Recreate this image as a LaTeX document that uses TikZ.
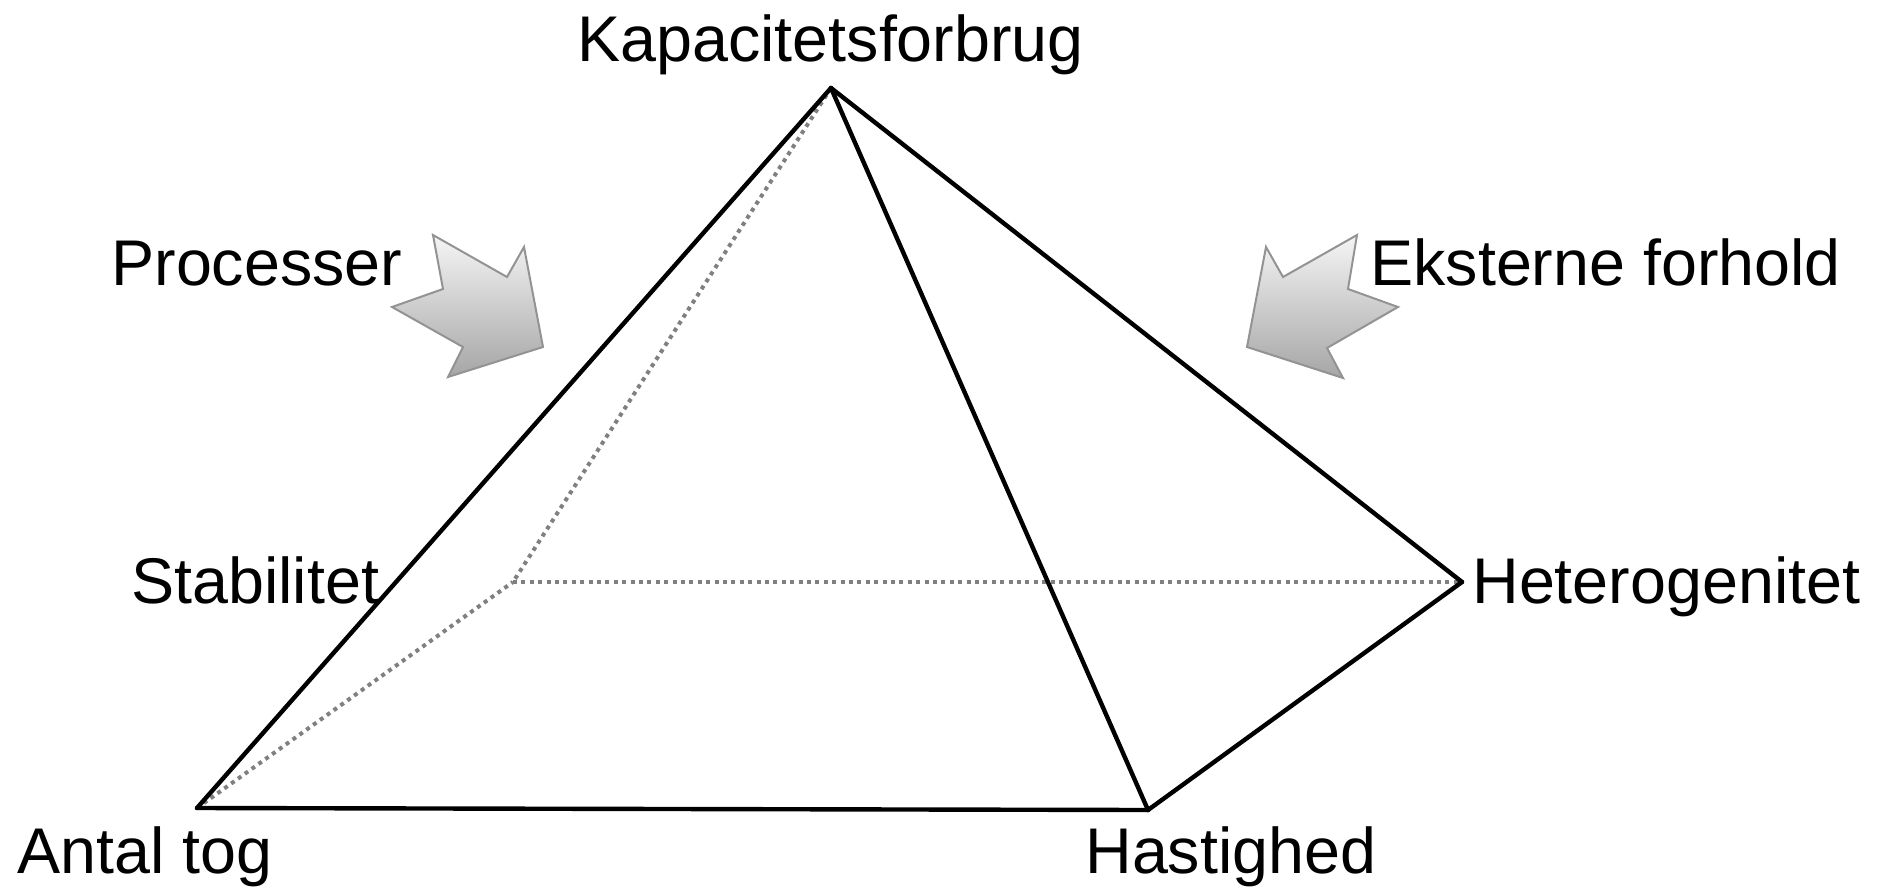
\documentclass[tikz,border=0pt]{standalone}
\usepackage{fontspec}
\setmainfont{Liberation Sans}
\begin{document}
\begin{tikzpicture}[x=0.5pt,y=-0.5pt,
  lbl/.style={inner sep=0pt,anchor=base west,font=\fontsize{32.3}{38}\selectfont},
  edge/.style={line width=2.2pt,line join=miter,line cap=round},
  hidden/.style={draw=black!50,line width=2pt,dash pattern=on 2pt off 2.2pt},
  bigarrow/.style={draw=gray!85,line width=1pt,line join=miter,top color=gray!8,bottom color=gray!70}]
\useasboundingbox (0,0) rectangle (1883,888);
% vertices
\coordinate (K) at (831,88);
\coordinate (A) at (197,808);
\coordinate (H) at (1148,810);
\coordinate (E) at (1462,582);
\coordinate (S) at (513,582);
% hidden edges
\draw[hidden] (K) -- (S);
\draw[hidden] (A) -- (S);
\draw[hidden] (S) -- (E);
% visible edges
\draw[edge] (A) -- (K);
\draw[edge] (K) -- (H);
\draw[edge] (K) -- (E);
\draw[edge] (A) -- (H);
\draw[edge] (H) -- (E);
% labels
\node[lbl] (tK) at (577,62) {Kapacitetsforbrug};
\node[lbl] (tP) at (111,285) {Processer};
\node[lbl] (tX) at (1370,285) {Eksterne forhold};
\node[lbl] (tS) at (131,603) {Stabilitet};
\node[lbl] (tE) at (1472,603) {Heterogenitet};
\node[lbl] (tA) at (17,873) {Antal tog};
\node[lbl] (tH) at (1085,873) {Hastighed};
% arrows
\path[bigarrow] (433,235) -- (507,277) -- (524,247) -- (543,347) -- (448,377) -- (463,347) -- (392,307) -- (443,289) -- cycle;
\path[bigarrow] (1357,235) -- (1283,277) -- (1266,247) -- (1247,347) -- (1343,378) -- (1327,348) -- (1398,307) -- (1348,289) -- cycle;
\end{tikzpicture}
\end{document}
